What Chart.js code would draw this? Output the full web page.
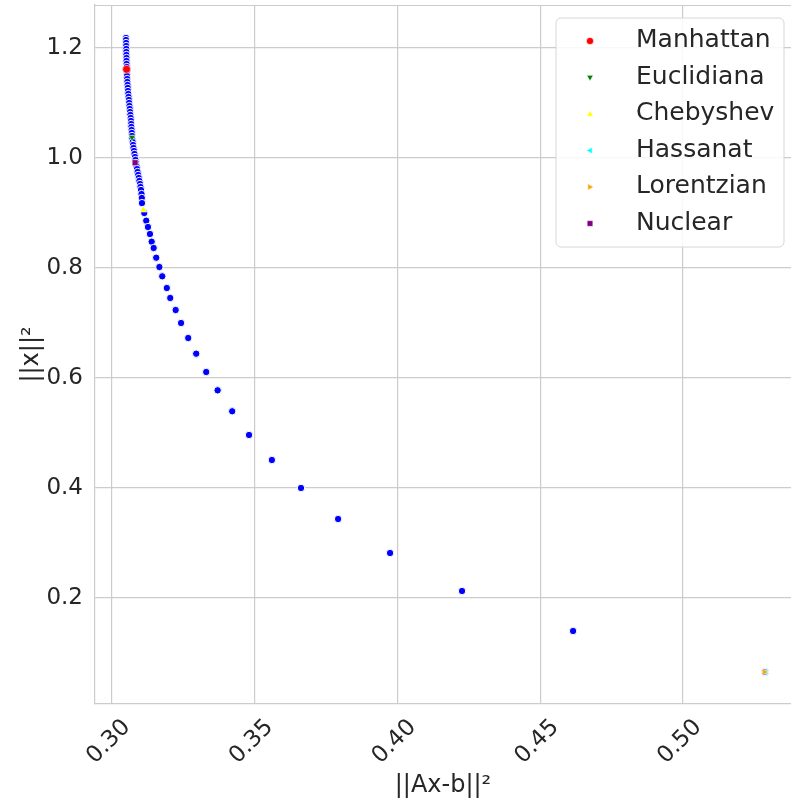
<!DOCTYPE html>
<html>
<head>
<meta charset="utf-8">
<script src="https://cdn.jsdelivr.net/npm/chart.js@4/dist/chart.umd.min.js"></script>
<style>
  html, body { margin: 0; padding: 0; background: #ffffff; }
  #wrap { width: 791px; height: 807px; }
</style>
</head>
<body>
<div id="wrap"><canvas id="c" width="791" height="807"></canvas></div>
<script>
// ---- data ----
const pathX = [
  0.3049, 0.3049, 0.30494, 0.30497, 0.30501, 0.30501, 0.30504, 0.30508, 0.30508, 0.30511,
  0.30515, 0.30518, 0.30522, 0.30525, 0.30532, 0.30539, 0.30546, 0.30553, 0.30560, 0.30571,
  0.30581, 0.30592, 0.30602, 0.30613, 0.30623, 0.30634, 0.30644, 0.30655, 0.30665, 0.30672,
  0.30679, 0.30687, 0.30694, 0.30701, 0.30711, 0.30725, 0.30739, 0.30753, 0.30771, 0.30788,
  0.30806, 0.30823, 0.30841, 0.30858, 0.30876, 0.30897, 0.30918, 0.30939, 0.30960, 0.30981,
  0.30998, 0.31016, 0.31034, 0.31044,
  0.3105, 0.3113, 0.3120, 0.3126, 0.3133, 0.3139, 0.3146, 0.3155, 0.3166, 0.3176,
  0.3192, 0.3204, 0.3223, 0.3242, 0.3267, 0.3295, 0.3330, 0.3370, 0.3421, 0.3480,
  0.3560, 0.3662, 0.3792, 0.3974, 0.4226, 0.4615, 0.5287
];
const pathY = [
  1.2182, 1.2145, 1.2091, 1.2036, 1.1982, 1.1927, 1.1873, 1.1818, 1.1764, 1.1709,
  1.1655, 1.1600, 1.1545, 1.1491, 1.1436, 1.1382, 1.1327, 1.1273, 1.1218, 1.1164,
  1.1109, 1.1055, 1.1000, 1.0945, 1.0891, 1.0836, 1.0782, 1.0727, 1.0673, 1.0618,
  1.0564, 1.0509, 1.0455, 1.0400, 1.0345, 1.0291, 1.0236, 1.0182, 1.0127, 1.0073,
  1.0018, 0.9964, 0.9909, 0.9855, 0.9800, 0.9745, 0.9691, 0.9636, 0.9582, 0.9527,
  0.9473, 0.9418, 0.9345, 0.9273,
  0.918, 0.900, 0.886, 0.8745, 0.8618, 0.8478, 0.8364, 0.8187, 0.8018, 0.7849,
  0.7636, 0.7455, 0.7236, 0.700, 0.6727, 0.6442, 0.6109, 0.5776, 0.5395, 0.4964,
  0.4509, 0.400, 0.3436, 0.2818, 0.2127, 0.140, 0.0655
];
const methodNames = ["Manhattan", "Euclidiana", "Chebyshev", "Hassanat", "Lorentzian", "Nuclear"];
const methodX = [0.3051, 0.3070, 0.3110, 0.5289, 0.5285, 0.3081];
const methodY = [1.1613, 1.0376, 0.9055, 0.0655, 0.0655, 0.9915];
const methodColors = ["#ff0000", "#008000", "#ffff00", "#00ffff", "#ffa500", "#800080"];
const methodStyles = ["circle", "triangle", "triangle", "triangle", "triangle", "rect"];
const methodRotation = [0, 180, 0, -90, 90, 0];
const xTicks = [0.30, 0.35, 0.40, 0.45, 0.50];
const yTicks = [0.2, 0.4, 0.6, 0.8, 1.0, 1.2];
const xTitle = "||Ax-b||²";
const yTitle = "||x||²";

// ---- build datasets ----
const datasets = [];
datasets.push({
  label: "",
  data: pathX.map((x, i) => ({ x: x, y: pathY[i] })),
  backgroundColor: "#0000ff",
  borderColor: "#ffffff",
  borderWidth: 1.0,
  pointRadius: 3.7,
  pointStyle: "circle",
  order: 10
});
methodNames.forEach((name, i) => {
  datasets.push({
    label: name,
    data: [{ x: methodX[i], y: methodY[i] }],
    backgroundColor: methodColors[i],
    borderColor: "#ffffff",
    borderWidth: 0.6,
    pointRadius: methodStyles[i] === "rect" ? 4.2 : 4,
    pointStyle: methodStyles[i],
    rotation: methodRotation[i],
    order: 6 - i
  });
});

const FONT = "'DejaVu Sans', 'Liberation Sans', sans-serif";

function drawMarker(ctx, style, rot, x, y, r, color) {
  ctx.save();
  ctx.translate(x, y);
  ctx.rotate(rot * Math.PI / 180);
  ctx.fillStyle = color;
  ctx.strokeStyle = "#ffffff";
  ctx.lineWidth = 0.6;
  ctx.beginPath();
  if (style === "circle") {
    ctx.arc(0, 0, r, 0, Math.PI * 2);
  } else if (style === "rect") {
    ctx.rect(-r * 0.8, -r * 0.8, r * 1.6, r * 1.6);
  } else {
    ctx.moveTo(0, -r * 1.0);
    ctx.lineTo(r * 0.9, r * 0.6);
    ctx.lineTo(-r * 0.9, r * 0.6);
    ctx.closePath();
  }
  ctx.fill();
  ctx.stroke();
  ctx.restore();
}

const framePlugin = {
  id: "frame",
  beforeDatasetsDraw(chart) {
    const a = chart.chartArea, ctx = chart.ctx;
    ctx.save();
    ctx.strokeStyle = "#cccccc";
    ctx.lineWidth = 1.2;
    ctx.beginPath();
    ctx.moveTo(a.left, a.top + 0.5);
    ctx.lineTo(a.right, a.top + 0.5);
    ctx.stroke();
    ctx.restore();
  }
};

const legendPlugin = {
  id: "boxLegend",
  afterDraw(chart) {
    const ctx = chart.ctx;
    const bx = 556, by = 18, bw = 228, bh = 229, rr = 5;
    ctx.save();
    ctx.globalAlpha = 0.85;
    ctx.fillStyle = "#ffffff";
    ctx.beginPath();
    ctx.roundRect(bx, by, bw, bh, rr);
    ctx.fill();
    ctx.globalAlpha = 1;
    ctx.strokeStyle = "#d6d6d6";
    ctx.lineWidth = 1;
    ctx.stroke();
    const rowY = [40.5, 77, 113.5, 150, 186.5, 223];
    ctx.font = "25px " + FONT;
    ctx.textBaseline = "middle";
    ctx.textAlign = "left";
    methodNames.forEach((name, i) => {
      drawMarker(ctx, methodStyles[i], methodRotation[i], 590, rowY[i] + 0.5, 3.6, methodColors[i]);
      ctx.fillStyle = "#262626";
      ctx.fillText(name, 636, rowY[i]);
    });
    ctx.restore();
  }
};

new Chart(document.getElementById("c"), {
  type: "scatter",
  data: { datasets: datasets },
  plugins: [framePlugin, legendPlugin],
  options: {
    responsive: false,
    animation: false,
    devicePixelRatio: 1,
    layout: { autoPadding: false, padding: { top: 5, right: 0, left: 0, bottom: 0 } },
    plugins: {
      legend: { display: false },
      tooltip: { enabled: false }
    },
    scales: {
      x: {
        type: "linear",
        min: 0.29405,
        max: 0.53782,
        afterBuildTicks(scale) { scale.ticks = xTicks.map(v => ({ value: v })); },
        afterFit(scale) {
          scale.height = 103;
          scale.paddingLeft = 0; scale.paddingRight = 0;
        },
        grid: { color: "#cccccc", lineWidth: 1.2, drawTicks: false },
        border: { color: "#cccccc", width: 1.2 },
        ticks: {
          font: { family: FONT, size: 23 },
          color: "#262626",
          maxRotation: 45,
          minRotation: 45,
          padding: 10,
          labelOffset: 15,
          callback: (v) => Number(v).toFixed(2)
        },
        title: {
          display: true,
          text: xTitle,
          font: { family: FONT, size: 24 },
          color: "#262626",
          padding: { top: 0, bottom: 7 }
        }
      },
      y: {
        type: "linear",
        min: 0.00727,
        max: 1.2782,
        afterBuildTicks(scale) { scale.ticks = yTicks.map(v => ({ value: v })); },
        afterFit(scale) {
          scale.width = 95;
          scale.paddingTop = 0; scale.paddingBottom = 0;
        },
        grid: { color: "#cccccc", lineWidth: 1.2, drawTicks: false },
        border: { color: "#cccccc", width: 1.2 },
        ticks: {
          font: { family: FONT, size: 23 },
          color: "#262626",
          padding: 12,
          callback: (v) => Number(v).toFixed(1)
        },
        title: {
          display: true,
          text: yTitle,
          font: { family: FONT, size: 24 },
          color: "#262626",
          padding: { top: 17, bottom: 0 }
        }
      }
    }
  }
});
</script>
</body>
</html>
